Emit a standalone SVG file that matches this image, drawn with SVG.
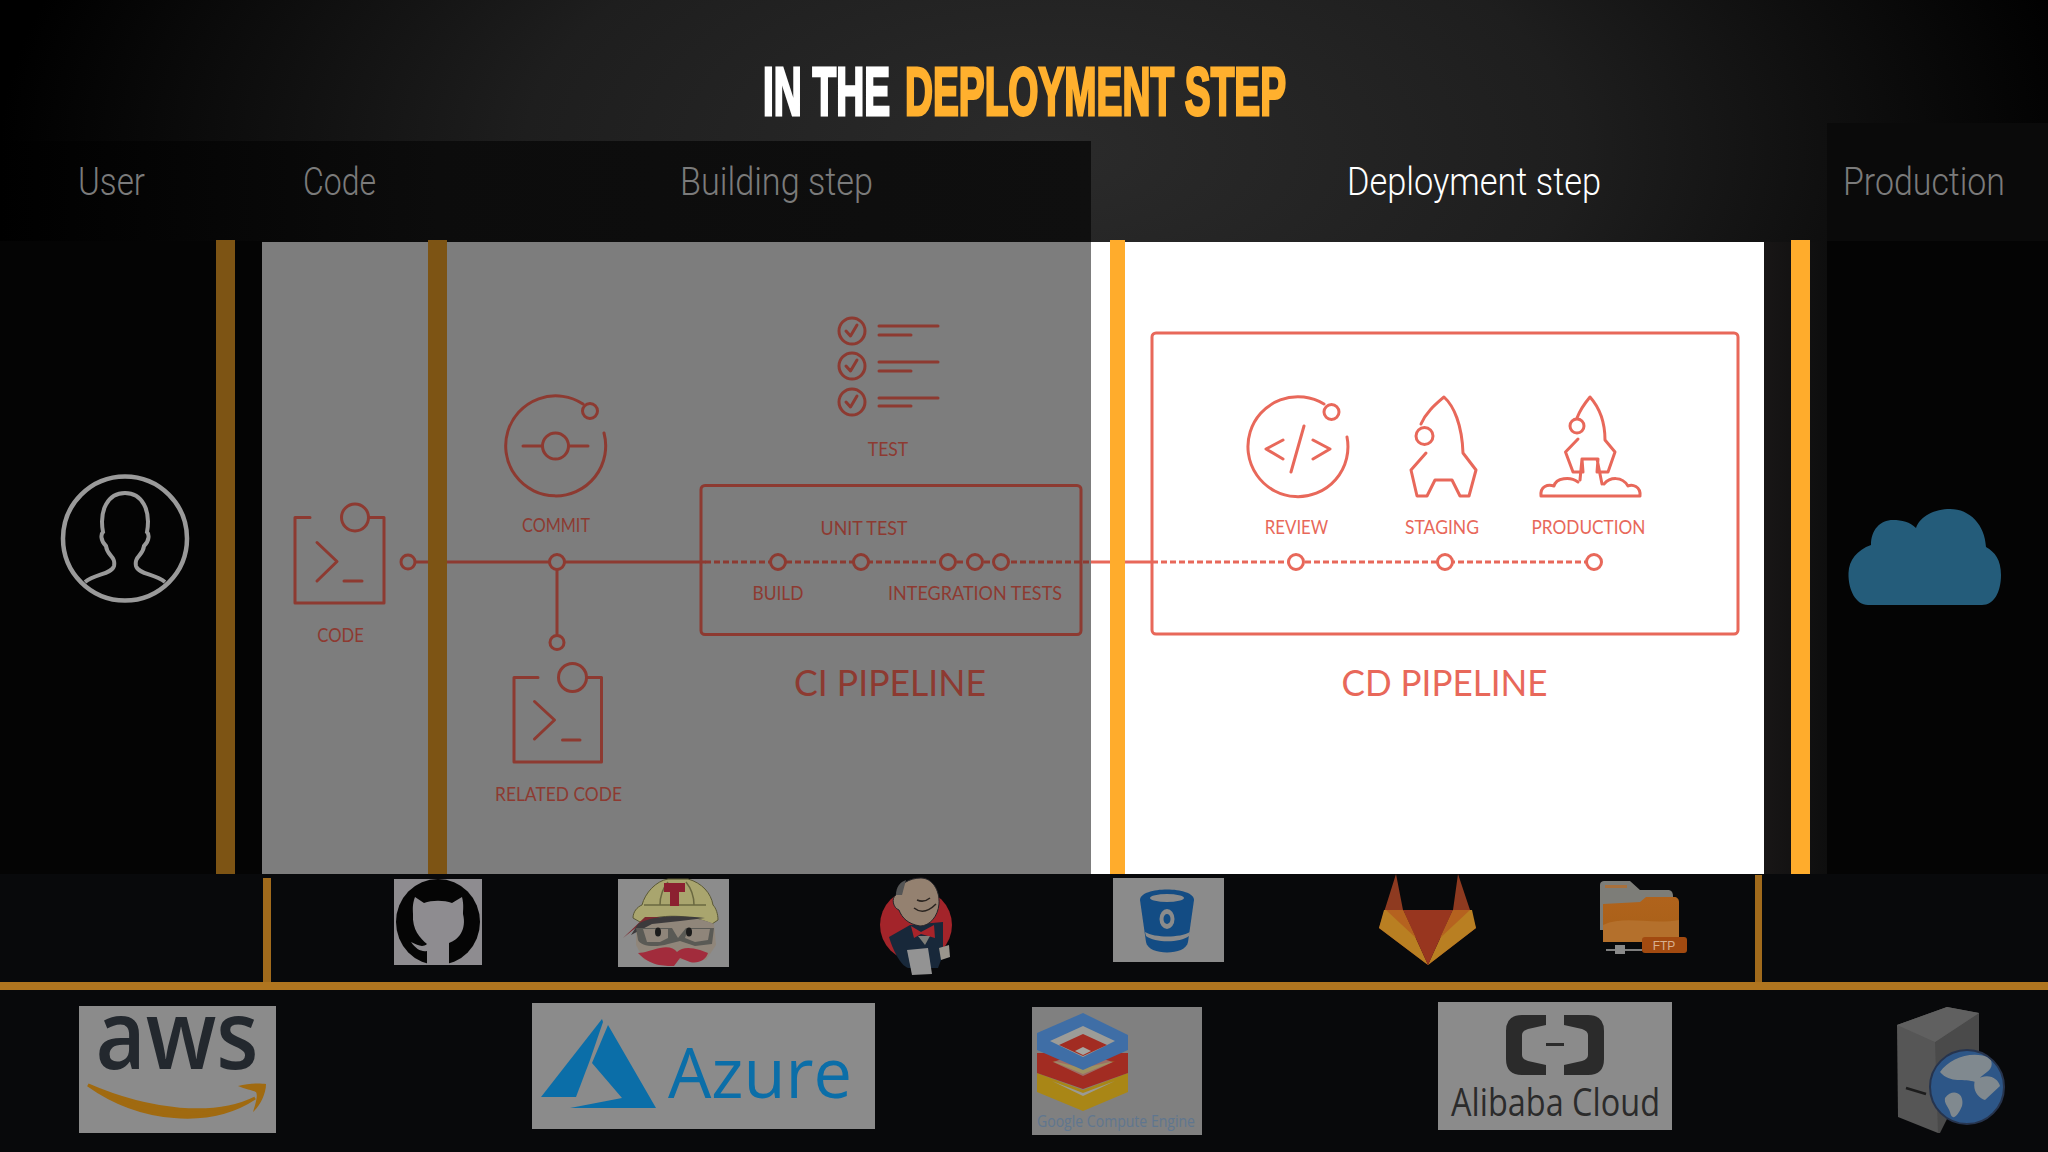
<svg xmlns="http://www.w3.org/2000/svg" width="2048" height="1152" viewBox="0 0 2048 1152">
<defs>
<radialGradient id="bg" gradientUnits="userSpaceOnUse" cx="1050" cy="150" r="1050" gradientTransform="translate(0 75) scale(1 .5)"><stop offset="0" stop-color="#2b2b2b"/><stop offset=".5" stop-color="#1e1e1e"/><stop offset="1" stop-color="#000"/></radialGradient>
<linearGradient id="rightFade" x1="0" x2="1" y1="0" y2="0"><stop offset="0" stop-color="#181616"/><stop offset="1" stop-color="#0e0e0e"/></linearGradient>
<linearGradient id="bandL" x1="0" x2="1" y1="0" y2="0"><stop offset="0" stop-color="#000"/><stop offset=".4" stop-color="#0c0c0c"/><stop offset="1" stop-color="#0f0f0f"/></linearGradient>
<linearGradient id="folder" x1="0" x2="0" y1="0" y2="1"><stop offset="0" stop-color="#b0631c"/><stop offset="1" stop-color="#a86018"/></linearGradient>
<clipPath id="gh"><rect x="394" y="879" width="88" height="86"/></clipPath>
<clipPath id="globe"><circle cx="1967" cy="1087" r="36"/></clipPath>
</defs>
<style>
.col{font-family:Roboto,"Liberation Sans",sans-serif;font-weight:300;font-size:38px;fill:#7b7b7b}
.ttl{font-family:"Liberation Sans",Arial,sans-serif;font-weight:700;font-size:68px;stroke-width:3px}
.lb{font-family:Lato,"Open Sans",sans-serif;font-size:19px;text-anchor:middle}
.big{font-family:Lato,"Open Sans",sans-serif;font-size:36px;text-anchor:middle}
.d{fill:none;stroke:#8d3a31;stroke-width:3;stroke-linecap:round;stroke-linejoin:round}
.l{fill:none;stroke:#e8685a;stroke-width:3;stroke-linecap:round;stroke-linejoin:round}
.dt{fill:#8d3a31}
.lt{fill:#e8685a}
.nd{fill:#7d7d7d;stroke:#8d3a31;stroke-width:3}
.nl{fill:#fff;stroke:#e8685a;stroke-width:3}
.bd{fill:#7d5414}
.br{fill:#ffac2c}
.rail{fill:#b0751f}
.box{fill:#8b8b8b}
</style>

<rect id="backdrop" width="2048" height="1152" fill="url(#bg)"/>
<rect id="top-band-left" x="0" y="141" width="1091" height="101" fill="url(#bandL)"/>
<rect id="top-band-right" x="1827" y="123" width="221" height="119" fill="#0a0a0a"/>
<rect id="left-column" x="0" y="241" width="262" height="633" fill="#040404"/>
<rect id="right-gap" x="1763" y="242" width="64" height="632" fill="url(#rightFade)"/>
<rect id="right-column" x="1827" y="241" width="221" height="633" fill="#040404"/>
<rect id="bottom-band" x="0" y="874" width="2048" height="278" fill="#08090b"/>
<rect id="panel-dim" x="262" y="242" width="829" height="632" fill="#7d7d7d"/>
<rect id="panel-lit" x="1091" y="242" width="673" height="632" fill="#fff"/>

<g id="title">
<text class="ttl" transform="translate(763 115) scale(.57 1)" fill="#fff" stroke="#fff">IN THE</text>
<text class="ttl" transform="translate(905 115) scale(.57 1)" fill="#ffb02e" stroke="#ffb02e">DEPLOYMENT STEP</text>
</g>
<g id="column-labels">
<text class="col" x="78" y="195" textLength="67" lengthAdjust="spacingAndGlyphs">User</text>
<text class="col" x="303" y="195" textLength="73" lengthAdjust="spacingAndGlyphs">Code</text>
<text class="col" x="680" y="195" textLength="193" lengthAdjust="spacingAndGlyphs">Building step</text>
<text class="col" x="1347" y="195" textLength="254" lengthAdjust="spacingAndGlyphs" style="fill:#fff">Deployment step</text>
<text class="col" x="1843" y="195" textLength="162" lengthAdjust="spacingAndGlyphs">Production</text>
</g>

<g id="connectors">
<path class="d" d="M415 562H705"/>
<path class="d" d="M557 570V634"/>
<path class="d" d="M705 562H1091" stroke-dasharray="6 3" style="stroke-linecap:butt"/>
<path class="l" d="M1091 562H1152" style="stroke-linecap:butt"/>
<path class="l" d="M1152 562H1586" stroke-dasharray="6 3" style="stroke-linecap:butt"/>
</g>

<g id="bars">
<rect class="bd" x="216" y="240" width="19" height="634"/>
<rect class="bd" x="428" y="240" width="19" height="634"/>
<rect class="br" x="1110" y="240" width="15" height="634"/>
<rect class="br" x="1791" y="240" width="19" height="634"/>
<rect class="rail" x="0" y="982" width="2048" height="8"/>
<rect class="rail" x="263" y="878" width="8" height="104" style="fill:#a06a1c"/>
<rect class="rail" x="1755" y="875" width="7" height="107" style="fill:#a06a1c"/>
</g>

<g id="user">
<ellipse cx="125" cy="538.500" rx="62" ry="62" fill="none" stroke="#9a9a9a" stroke-width="4.500"/>
<path d="M85 582C95 574 112 574 114 566C116 556 107 556 106 546C100 540 101 534 103 532C99 510 108 493 125 493C142 493 151 510 147 532C149 534 150 540 144 546C143 556 134 556 136 566C138 574 155 574 165 582" fill="none" stroke="#9a9a9a" stroke-width="4"/>
</g>

<g id="code-node">
<path class="d" d="M310 517.500H295V603H384V517.500H369"/>
<circle class="nd" cx="355" cy="517.500" r="13.500"/>
<path class="d" d="M317 542.500L337 561.500L317 581M344 581H362"/>
<text class="lb dt" x="340.500" y="642" textLength="46.500" lengthAdjust="spacingAndGlyphs">CODE</text>
<circle class="nd" cx="408" cy="562" r="7"/>
</g>

<g id="commit-node">
<path class="d" d="M583 404A50 50 0 1 0 604 433"/>
<circle class="nd" cx="590" cy="411" r="7.500"/>
<path class="d" d="M523 446H588"/>
<circle class="nd" cx="555.500" cy="446" r="13"/>
<text class="lb dt" x="556" y="532" textLength="68" lengthAdjust="spacingAndGlyphs">COMMIT</text>
<circle class="nd" cx="557" cy="562" r="7.500"/>
</g>

<g id="related-code-node">
<circle class="nd" cx="557" cy="642.500" r="7"/>
<path class="d" d="M538 677.500H514V762H601.500V677.500H587"/>
<circle class="nd" cx="572.500" cy="677.500" r="14"/>
<path class="d" d="M534.500 701.500L554.500 720L534.500 739M562.500 740H580"/>
<text class="lb dt" x="558.500" y="801" textLength="127" lengthAdjust="spacingAndGlyphs">RELATED CODE</text>
</g>

<g id="test-node">
<circle class="d" cx="852" cy="331" r="13"/><path class="d" d="M846 331L850.500 336L857 325M879 326H938M879 335H911"/>
<circle class="d" cx="852" cy="366" r="13"/><path class="d" d="M846 366L850.500 371L857 360M879 362H938M879 371H911"/>
<circle class="d" cx="852" cy="402" r="13"/><path class="d" d="M846 402L850.500 407L857 396M879 398H938M879 406H911"/>
<text class="lb dt" x="888" y="456" textLength="40.500" lengthAdjust="spacingAndGlyphs">TEST</text>
</g>

<g id="ci-pipeline">
<rect class="d" x="701" y="485.500" width="380" height="149" rx="4"/>
<text class="lb dt" x="864" y="535" textLength="87" lengthAdjust="spacingAndGlyphs">UNIT TEST</text>
<text class="lb dt" x="778" y="600" textLength="51" lengthAdjust="spacingAndGlyphs">BUILD</text>
<text class="lb dt" x="975" y="600" textLength="174" lengthAdjust="spacingAndGlyphs">INTEGRATION TESTS</text>
<circle class="nd" cx="778" cy="562" r="7.500"/>
<circle class="nd" cx="861" cy="562" r="7.500"/>
<circle class="nd" cx="948" cy="562" r="7.500"/>
<circle class="nd" cx="975" cy="562" r="7.500"/>
<circle class="nd" cx="1001" cy="562" r="7.500"/>
<text class="big dt" x="890" y="696" textLength="192" lengthAdjust="spacingAndGlyphs">CI PIPELINE</text>
</g>

<g id="cd-pipeline">
<rect class="l" x="1152" y="333" width="586" height="301" rx="4"/>
<path class="l" d="M1324 404A50 50 0 1 0 1347 437"/>
<circle class="nl" cx="1331.500" cy="412" r="7.500"/>
<path class="l" d="M1283 440L1266 449L1283 459M1313 440L1330 449L1313 459M1304 426L1291 472"/>
<path class="l" d="M1421 424C1426 412 1436 404 1444 397C1454 406 1462 425 1463 453L1476 470L1469 496H1460L1452 480H1435L1427 496H1417L1411 470L1426 453"/>
<circle class="nl" cx="1424.500" cy="436" r="8.500"/>
<path class="l" d="M1577 418C1580 410 1585 403 1590 397C1598 406 1605 420 1605 440L1615 452L1608 472H1597L1598 459H1582L1583 472H1573L1565.500 452L1578 439M1582 459L1580 480M1597 459L1602 484"/>
<circle class="nl" cx="1577" cy="426" r="7"/>
<path class="l" d="M1541 496H1640C1641 486 1632 484 1628 486C1622 476 1610 477 1604 484M1541 496C1540 486 1548 484 1554 486C1556 478 1570 476 1578 482"/>
<text class="lb lt" x="1296.500" y="534" textLength="63.500" lengthAdjust="spacingAndGlyphs">REVIEW</text>
<text class="lb lt" x="1442" y="534" textLength="74" lengthAdjust="spacingAndGlyphs">STAGING</text>
<text class="lb lt" x="1588.500" y="534" textLength="114" lengthAdjust="spacingAndGlyphs">PRODUCTION</text>
<circle class="nl" cx="1296" cy="562" r="7.500"/>
<circle class="nl" cx="1445" cy="562" r="7.500"/>
<circle class="nl" cx="1594" cy="562" r="7.500"/>
<text class="big lt" x="1444.500" y="696" textLength="206" lengthAdjust="spacingAndGlyphs">CD PIPELINE</text>
</g>

<g id="cloud">
<path d="M1868 605C1856 605 1848 590 1848.500 573C1849 560 1857 550 1871 545C1871 530 1880 520 1893 520C1902 520 1910 522 1916 528C1920 516 1935 509 1950 509C1970 509 1985 525 1986 547C1995 552 2001 560 2001 575C2001 592 1994 605 1982 605Z" fill="#245c7a"/>
</g>

<g id="github-logo">
<rect x="394" y="879" width="88" height="86" fill="#8e8c90"/>
<ellipse cx="438" cy="922" rx="42" ry="43" fill="#050505" clip-path="url(#gh)"/>
<path d="M415 897L424 903C432 900 444 900 452 903L462 897C464 905 463 910 463 914C467 930 458 940 449 943V965H427V951C421 952 416 949 411 942C418 945 422 948 427 944C420 938 412 930 413 914C413 910 412 905 415 897Z" fill="#8e8c90"/>
</g>

<g id="travis-logo">
<rect x="618" y="879" width="111" height="88" fill="#8c8c8c"/>
<path d="M642 905C645 893 656 881 668 879H688C702 883 711 893 713 905C716 908 718 914 718 920L712 924C690 914 660 914 640 922L633 918C633 912 637 907 642 905Z" fill="#a9a56e" stroke="#5a5836" stroke-width="1"/>
<path d="M644 905H706M660 905C660 895 664 887 668 882M694 905C694 895 690 887 686 882" fill="none" stroke="#6a6840" stroke-width="1.500"/>
<path d="M664 883H685V892H679V906H670V892H664Z" fill="#8c2030"/>
<path d="M636 926C650 916 695 914 714 924L716 945L706 960H644L636 945Z" fill="#90867a"/>
<path d="M623 938L645 917H660L638 926Z" fill="#7c2a30"/>
<path d="M638 924C652 915 680 915 705 918L680 921L652 924L631 935Z" fill="#3c3a3c"/>
<path d="M636 928H672L678 938L686 928H714L712 944L695 946L680 941L668 944C655 948 640 946 638 940Z" fill="#5a5a55"/>
<path d="M643 929H668L668 938L660 942H647ZM688 929H710L708 940L695 942L685 938Z" fill="#8f857a"/>
<ellipse cx="658" cy="932" rx="3" ry="4.500" fill="#1b1b1b"/><ellipse cx="689" cy="932" rx="3" ry="4.500" fill="#1b1b1b"/>
<path d="M638 953C645 953 650 950 660 948C668 946 674 948 677 952C682 947 690 947 700 950L708 953C706 960 698 964 690 962L680 958L674 966C664 966 650 966 638 953Z" fill="#a22c3c"/>
</g>

<g id="jenkins-logo">
<circle cx="916" cy="925" r="36" fill="#a3242a"/>
<path d="M889 937L910 925L943 922L943 955L938 968L908 968C900 965 893 950 889 937Z" fill="#18283a"/>
<path d="M921 878C932 878 940 890 939 904C938 916 930 926 920 926C908 924 902 918 899 910C893 908 891 898 896 895C898 884 910 878 921 878Z" fill="#948170" stroke="#26262a" stroke-width="1"/>
<path d="M896 895C896 887 900 882 906 880L902 895Z" fill="#555"/>
<path d="M917 900Q924 903 930 898M914 908Q924 916 936 904" fill="none" stroke="#2a2420" stroke-width="1.500"/>
<path d="M911 926L921 932L934 925L935 938L921 934L914 938Z" fill="#a8242a"/>
<path d="M918 936H930L925 945Z" fill="#7e7e78"/>
<path d="M907 950L928 948L932 974L912 975Z" fill="#939393"/>
<path d="M939 948L949 945L950 957L941 960Z" fill="#9a958c"/>
</g>

<g id="bitbucket-logo">
<rect x="1113" y="878" width="111" height="84" fill="#8b8b8b"/>
<path d="M1140 900C1140 886 1194 886 1194 900L1188 942C1186 956 1148 956 1146 942Z" fill="#134c84"/>
<ellipse cx="1167" cy="898" rx="17" ry="4" fill="#8b8b8b"/>
<path d="M1145 932C1155 938 1180 938 1190 932L1189 936C1180 943 1155 943 1146 936Z" fill="#8b8b8b"/>
<ellipse cx="1167" cy="919" rx="7.500" ry="10" fill="#8b8b8b"/>
<ellipse cx="1167" cy="919" rx="3.500" ry="5" fill="#134c84"/>
</g>

<g id="gitlab-logo">
<path d="M1396 874L1379 928L1428 965L1403 910Z" fill="#8e3a20"/>
<path d="M1458 874L1476 928L1428 965L1453 910Z" fill="#8e3a20"/>
<path d="M1384 910H1403L1428 965L1379 928Z" fill="#b97f22"/>
<path d="M1472 910H1453L1428 965L1476 928Z" fill="#b97f22"/>
<path d="M1403 910H1453L1428 965Z" fill="#98361f"/>
<path d="M1386 910H1403L1416 938ZM1470 910H1453L1440 938Z" fill="#b5621f"/>
</g>

<g id="ftp-logo">
<path d="M1600 885C1600 882 1602 881 1604 881H1630L1640 890H1668C1671 890 1673 892 1673 896V930H1600Z" fill="#7d7d78"/>
<rect x="1605" y="885" width="22" height="3" fill="#a8703c"/>
<path d="M1603 942V904L1640 902L1646 897H1674C1677 897 1679 899 1679 902V942Z" fill="url(#folder)"/>
<path d="M1603 942V925C1625 915 1650 925 1679 920V942Z" fill="#b4702c"/>
<path d="M1606 950H1642" stroke="#7e7e7e" stroke-width="2" fill="none"/>
<rect x="1615" y="945" width="10" height="9" fill="#8a8a8a"/>
<rect x="1642" y="937" width="45" height="16" rx="3" fill="#a24a10"/>
<text x="1664" y="950" font-family="'Liberation Sans',sans-serif" font-size="12" fill="#d8b090" text-anchor="middle">FTP</text>
</g>

<g id="aws-logo">
<rect x="79" y="1006" width="197" height="127" fill="#8b8b8b"/>
<text x="177" y="1069" font-family="'Open Sans',sans-serif" font-weight="600" font-size="96" fill="#23282e" text-anchor="middle" textLength="163" lengthAdjust="spacingAndGlyphs">aws</text>
<path d="M88 1085C140 1122 210 1128 255 1098C215 1118 150 1112 88 1085Z" fill="#a06a10" stroke="#a06a10" stroke-width="3"/>
<path d="M238 1086C248 1083 260 1083 266 1084C266 1094 260 1106 253 1112C256 1102 258 1096 256 1092C252 1090 245 1089 238 1086Z" fill="#a06a10"/>
</g>

<g id="azure-logo">
<rect x="532" y="1003" width="343" height="126" fill="#8b8b8b"/>
<path d="M602 1019L541 1097H576L590 1060L603 1022Z" fill="#0b6ea8"/>
<path d="M608 1025L656 1108H570L622 1098L592 1063Z" fill="#0b6ea8"/>
<text x="668" y="1098" font-family="'Open Sans',sans-serif" font-size="70" fill="#0b6ea8" textLength="184" lengthAdjust="spacingAndGlyphs">Azure</text>
</g>

<g id="google-logo">
<rect x="1032" y="1007" width="170" height="128" fill="#808080"/>
<path d="M1037 1073L1083 1090L1128 1073V1092L1083 1111L1037 1092Z" fill="#a98616"/>
<path d="M1052 1081L1083 1096L1115 1081L1083 1093Z" fill="#9a9a94"/>
<path d="M1037 1053H1128V1073L1083 1089L1037 1073Z" fill="#a22c22"/>
<path d="M1052 1061L1083 1074L1115 1061L1083 1068Z" fill="#a98616"/>
<path d="M1053 1062L1065 1058L1083 1066L1100 1058L1113 1062L1083 1076Z" fill="#9a9a94" opacity=".6"/>
<path d="M1083 1013L1128 1035V1050L1083 1070L1037 1050V1033Z" fill="#3f6ea6"/>
<path d="M1083 1026L1115 1041L1083 1057L1050 1041Z" fill="#9c9c98"/>
<path d="M1083 1034L1107 1045L1083 1056L1059 1045Z" fill="#a22c22"/>
<path d="M1083 1047L1091 1051L1083 1055L1075 1051Z" fill="#a6a6a2"/>
<text x="1116" y="1127" font-family="'Open Sans',sans-serif" font-size="17" fill="#5f768f" text-anchor="middle" textLength="158" lengthAdjust="spacingAndGlyphs">Google Compute Engine</text>
</g>

<g id="alibaba-logo">
<rect x="1438" y="1002" width="234" height="128" fill="#8b8b8b"/>
<path d="M1546 1015H1522Q1506 1015 1506 1031V1059Q1506 1075 1522 1075H1546V1065L1528 1061Q1522 1059 1522 1055V1035Q1522 1031 1528 1029L1546 1025Z" fill="#2b2b2b"/>
<path d="M1564 1015H1588Q1604 1015 1604 1031V1059Q1604 1075 1588 1075H1564V1065L1582 1061Q1588 1059 1588 1055V1035Q1588 1031 1582 1029L1564 1025Z" fill="#2b2b2b"/>
<rect x="1546" y="1043" width="18" height="3" fill="#2b2b2b"/>
<text x="1555.500" y="1116" font-family="'Open Sans',sans-serif" font-size="38" fill="#2b2b2b" text-anchor="middle" textLength="209" lengthAdjust="spacingAndGlyphs">Alibaba Cloud</text>
</g>

<g id="server-logo">
<path d="M1897 1025L1947 1007L1979 1013V1060L1938 1133L1898 1117Z" fill="#565656"/>
<path d="M1935 1042L1979 1013V1055L1940 1133L1938 1133Z" fill="#4a4a4a"/>
<path d="M1897 1025L1947 1007L1979 1013L1935 1042Z" fill="#606060"/>
<path d="M1906 1088L1926 1094" stroke="#1c1c1c" stroke-width="2.500"/>
<circle cx="1967" cy="1087" r="37" fill="#2d5687" stroke="#26344e" stroke-width="2"/>
<g clip-path="url(#globe)">
<path d="M1940 1072C1950 1058 1972 1050 1990 1058C1996 1070 1985 1072 1975 1082C1965 1078 1950 1084 1940 1072ZM1945 1098C1952 1088 1965 1092 1962 1106C1958 1116 1952 1122 1950 1112C1948 1106 1944 1104 1945 1098ZM1975 1080C1988 1072 1998 1078 2000 1086L1985 1100C1978 1098 1972 1090 1975 1080Z" fill="#80898f"/>
</g>
</g>
</svg>
